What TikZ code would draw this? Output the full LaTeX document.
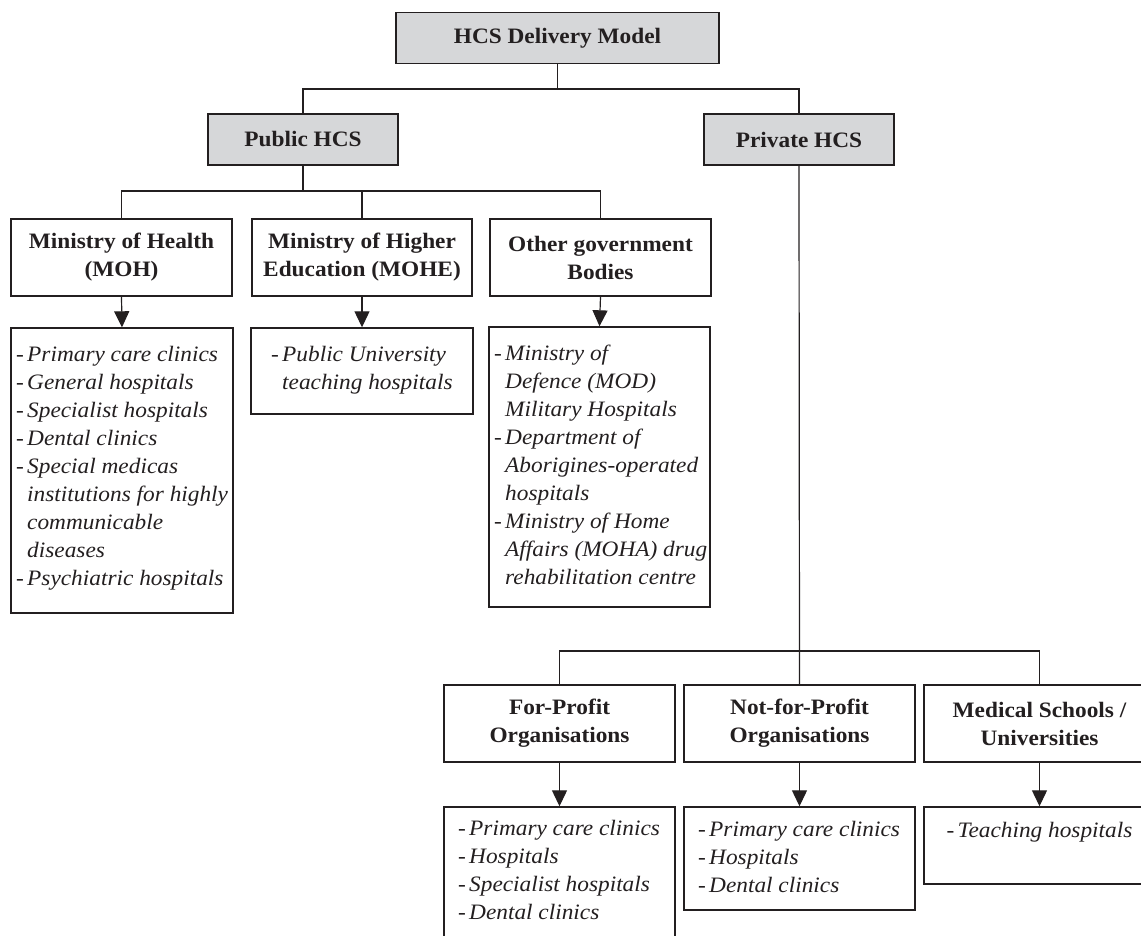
\documentclass[tikz,border=0pt]{standalone}
\usepackage{fontspec}
\setmainfont{Liberation Serif}[FakeStretch=1.06]
\usetikzlibrary{arrows.meta}
\definecolor{ink}{RGB}{35,31,32}
\definecolor{hdrgray}{RGB}{214,215,217}
\newcommand{\hcsitem}[1]{\makebox[11pt][l]{\upshape -}#1}
\newcommand{\hcscont}[1]{\hspace*{11pt}#1}
\begin{document}
\begin{tikzpicture}[x=1pt,y=-1pt,
  hdr/.style={draw=ink, fill=hdrgray, line width=1.4pt, minimum height=51pt, inner sep=0pt,
    font=\fontsize{22}{28}\selectfont\bfseries, text=ink},
  sub/.style={draw=ink, line width=1.4pt, minimum height=77pt, inner sep=0pt, align=center,
    font=\fontsize{22}{28}\selectfont\bfseries, text=ink},
  lst/.style={draw=ink, line width=1.4pt, inner sep=0pt},
  txt/.style={inner sep=0pt, align=left, anchor=west, text=ink,
    font=\fontsize{22}{28}\selectfont\itshape},
  conn/.style={draw=ink, line width=1.2pt},
  arr/.style={conn, -{Triangle[length=16pt,width=15pt]}}
]
\useasboundingbox (0,0) rectangle (1141,936);
\clip (0,0) rectangle (1141,936);

% header boxes
\node[hdr, minimum width=323pt] (top) at (557.5,38) {HCS Delivery Model};
\node[hdr, minimum width=190pt] (pub) at (303,139.5) {Public HCS};
\node[hdr, minimum width=190pt] (priv) at (799,139.5) {Private HCS};

% public sub boxes
\node[sub, minimum width=221pt] (moh) at (121.5,257.5) {Ministry of Health\\(MOH)};
\node[sub, minimum width=220pt] (mohe) at (362,257.5) {Ministry of Higher\\Education (MOHE)};
\node[sub, minimum width=221pt] (oth) at (600.5,257.5) {Other government\\Bodies};

% private sub boxes
\node[sub, minimum width=231pt] (forp) at (559.5,723.5) {For-Profit\\Organisations};
\node[sub, minimum width=231pt] (notp) at (799.5,723.5) {Not-for-Profit\\Organisations};
\node[sub, minimum width=231pt] (med) at (1039.5,723.5) {Medical Schools /\\Universities};

% list boxes
\node[lst, minimum width=222pt, minimum height=285pt] (mohL) at (122,470.5) {};
\node[lst, minimum width=222pt, minimum height=86pt] (moheL) at (362,371) {};
\node[lst, minimum width=221pt, minimum height=280pt] (othL) at (599.5,467) {};
\node[lst, minimum width=231pt, minimum height=136pt] (forpL) at (559.5,875) {};
\node[lst, minimum width=231pt, minimum height=103pt] (notpL) at (799.5,858.5) {};
\node[lst, minimum width=231pt, minimum height=77pt] (medL) at (1039.5,845.5) {};

% list texts
\node[txt] (mohT) at (16,468.5) {\hcsitem{Primary care clinics}\\\hcsitem{General hospitals}\\\hcsitem{Specialist hospitals}\\\hcsitem{Dental clinics}\\\hcsitem{Special medicas}\\\hcscont{institutions for highly}\\\hcscont{communicable}\\\hcscont{diseases}\\\hcsitem{Psychiatric hospitals}};
\node[txt] (moheT) at (271,370.5) {\hcsitem{Public University}\\\hcscont{teaching hospitals}};
\node[txt] (othT) at (494,464.5) {\hcsitem{Ministry of}\\\hcscont{Defence (MOD)}\\\hcscont{Military Hospitals}\\\hcsitem{Department of}\\\hcscont{Aborigines-operated}\\\hcscont{hospitals}\\\hcsitem{Ministry of Home}\\\hcscont{Affairs (MOHA) drug}\\\hcscont{rehabilitation centre}};
\node[txt] (forpT) at (458,870) {\hcsitem{Primary care clinics}\\\hcsitem{Hospitals}\\\hcsitem{Specialist hospitals}\\\hcsitem{Dental clinics}};
\node[txt] (notpT) at (698,856.5) {\hcsitem{Primary care clinics}\\\hcsitem{Hospitals}\\\hcsitem{Dental clinics}};
\node[txt, anchor=base] (medT) at (1039.5,837) {\hcsitem{Teaching hospitals}};

% connectors
\coordinate (j1) at (557.5,89);
\draw[conn] (top.south) -- (j1);
\draw[conn] (pub.north) |- (j1) -| (priv.north);

\coordinate (j2) at (303,191);
\draw[conn] (pub.south) -- (j2);
\draw[conn] (moh.north) |- (j2) -| (oth.north);
\draw[conn] (mohe.north) -- (mohe.north |- j2);

\coordinate (j3) at (799.5,651);
\draw[conn] (priv.south) -- (notp.north);
\draw[conn] (forp.north) |- (j3) -| (med.north);

% arrows
\draw[arr] (moh.south) -- (mohL.north);
\draw[arr] (mohe.south) -- (moheL.north);
\draw[arr] (oth.south) -- (othL.north);
\draw[arr] (forp.south) -- (forpL.north);
\draw[arr] (notp.south) -- (notpL.north);
\draw[arr] (med.south) -- (medL.north);
\end{tikzpicture}
\end{document}
